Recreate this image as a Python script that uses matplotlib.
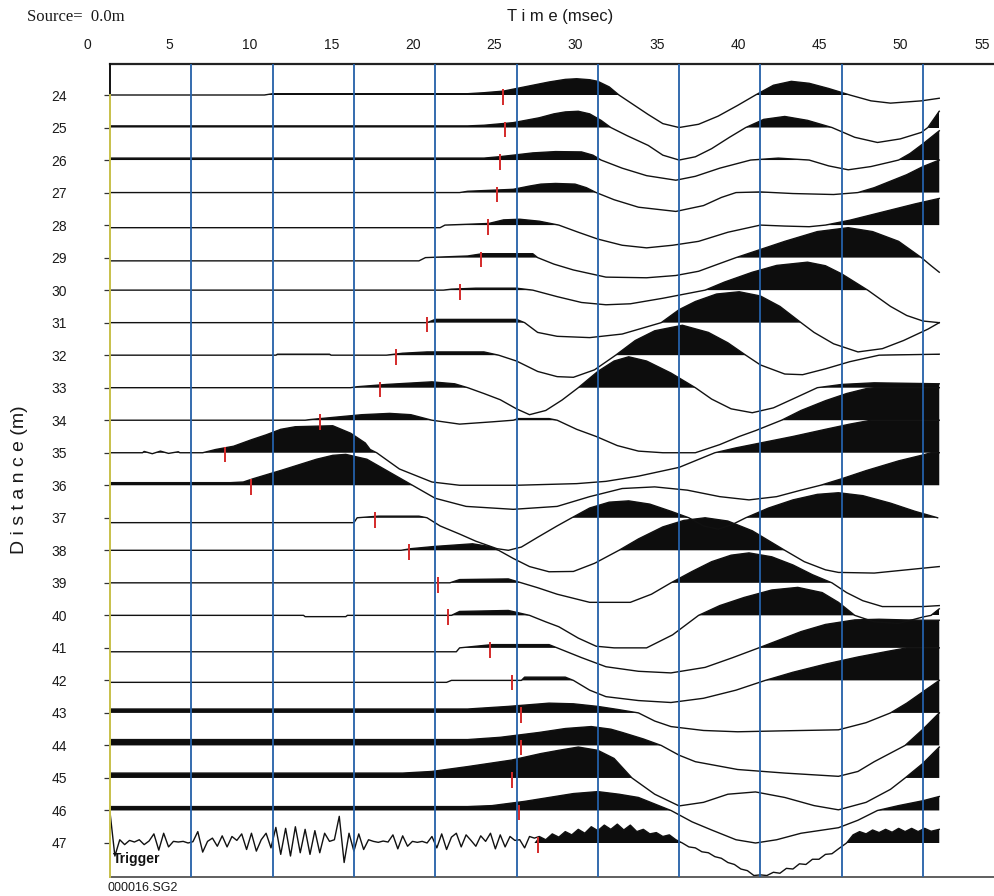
import numpy as np
import matplotlib
matplotlib.use("Agg")
import matplotlib.pyplot as plt

# Trace picks / shot info
# ----------------------
trace_ids = list(range(24, 48))
x_tick_values = [0, 5, 10, 15, 20, 25, 30, 35, 40, 45, 50, 55]
grid_times = [5, 10, 15, 20, 25, 30, 35, 40, 45, 50]

# first-break picks (msec, frame time) for traces 24..47
pick_times = [24.2, 24.3, 24.0, 23.8, 23.25, 22.8, 21.5, 19.5, 17.6, 16.6,
              12.9, 7.1, 8.65, 16.3, 18.4, 20.2, 20.8, 23.4, 24.7, 25.3,
              25.3, 24.7, 25.15, 26.3]

# Wiggle traces, (time msec, amplitude in trace spacings, + = up)
tr24 = [(0, 0), (9.5, 0), (10, 0.04), (22, 0.04), (23, 0.07), (24.2, 0.12), (25, 0.2),
        (26, 0.3), (27, 0.4), (28, 0.48), (28.7, 0.5), (29.5, 0.47), (30, 0.42),
        (30.7, 0.25), (31.3, 0), (32.2, -0.3), (33.1, -0.6), (34, -0.88), (35, -1.0),
        (36.2, -0.9), (37.4, -0.65), (38.6, -0.32), (39.7, 0), (40.8, 0.3), (41.9, 0.42),
        (43, 0.36), (44.2, 0.2), (45.5, 0), (46.8, -0.18), (48, -0.25), (49.9, -0.18),
        (51, -0.1)]
tr25 = [(0, 0.05), (22, 0.05), (23, 0.07), (24.8, 0.15), (26.4, 0.3), (27.3, 0.42),
        (28, 0.48), (28.8, 0.5), (29.5, 0.42), (30.2, 0.22), (30.8, 0), (31.8, -0.25),
        (33.1, -0.55), (34, -0.85), (35, -1.0), (36, -0.9), (37, -0.65), (38.1, -0.3),
        (39.1, 0), (40.2, 0.25), (41.5, 0.34), (42.9, 0.22), (44.4, 0), (45.8, -0.3),
        (47.2, -0.46), (48.6, -0.35), (49.9, -0.15), (50.3, 0), (51, 0.5)]
tr26 = [(0, 0.06), (23, 0.06), (23.9, 0.1), (24.8, 0.15), (26, 0.22), (27.4, 0.26),
        (29, 0.25), (29.7, 0.15), (30.2, 0), (31.5, -0.25), (33, -0.48), (34.8, -0.62),
        (36, -0.5), (37.5, -0.25), (39.4, 0), (41.1, 0.06), (43, 0), (44.2, -0.18),
        (45.4, -0.3), (46.8, -0.2), (48, -0.06), (48.5, 0), (49.2, 0.2), (50, 0.5),
        (51, 0.9)]
tr27 = [(0, 0), (21.5, 0), (22, 0.04), (24.8, 0.1), (25.8, 0.2), (26.5, 0.26),
        (27.4, 0.28), (28.6, 0.26), (29.3, 0.15), (29.9, 0), (31, -0.22), (32.5, -0.45),
        (34.8, -0.58), (36.5, -0.4), (37.6, -0.15), (38.5, 0), (40, 0.02), (42, -0.03),
        (44.5, -0.06), (46, 0), (47, 0.15), (48, 0.35), (49, 0.55), (50, 0.8), (51, 1.0)]
tr28 = [(0, -0.08), (20.3, -0.08), (20.6, 0), (23.3, 0.05), (24.2, 0.16), (25.2, 0.18),
        (26.4, 0.12), (27.6, 0), (28.8, -0.22), (30, -0.43), (31.5, -0.62), (33, -0.7),
        (34.6, -0.62), (36.2, -0.5), (38, -0.22), (40, 0), (41.5, -0.03), (43, -0.05),
        (44, 0), (45.5, 0.15), (47.5, 0.4), (49.5, 0.65), (51, 0.82)]
tr29 = [(0, -0.1), (19, -0.1), (19.4, 0), (22, 0.05), (22.9, 0.12), (26, 0.12),
        (26.3, 0), (27.3, -0.2), (28.5, -0.38), (30.5, -0.6), (33, -0.62), (34.8, -0.55),
        (36.2, -0.42), (37.4, -0.2), (38.5, 0), (40, 0.25), (41.5, 0.5), (43.5, 0.8),
        (45.4, 0.92), (46.9, 0.8), (48.5, 0.5), (49.9, 0), (50.5, -0.25), (51, -0.45)]
tr30 = [(0, 0), (20.5, 0), (21, 0.03), (22.5, 0.06), (25, 0.06), (26, 0), (27.5, -0.2),
        (29, -0.38), (30.5, -0.45), (32, -0.42), (34, -0.25), (36.6, 0), (37.8, 0.25),
        (39.5, 0.55), (41, 0.76), (42.9, 0.86), (44, 0.75), (45, 0.5), (46.6, 0),
        (47.3, -0.25), (48, -0.5), (49, -0.78), (50, -0.95), (51, -1.0)]
tr31 = [(0, 0), (19.5, 0), (20, 0.1), (25, 0.1), (25.5, 0), (26.3, -0.3), (27.5, -0.42),
        (29.5, -0.46), (31.5, -0.35), (33.9, 0), (35, 0.4), (36, 0.65), (37.3, 0.88),
        (38.7, 0.95), (40, 0.82), (41.2, 0.5), (42.5, 0), (43.3, -0.3), (44.5, -0.65),
        (46, -0.9), (47.5, -0.8), (48.8, -0.55), (50.3, -0.2), (51, 0)]
tr32 = [(0, 0), (10.2, 0), (10.3, 0.03), (13.5, 0.03), (13.6, 0), (17, 0), (18, 0.06),
        (19.5, 0.1), (23, 0.1), (23.9, 0), (25, -0.18), (26.3, -0.5), (27.5, -0.66),
        (28.5, -0.68), (29.8, -0.45), (31.1, 0), (32.3, 0.45), (33.5, 0.75), (35.2, 0.92),
        (36.8, 0.7), (38, 0.38), (39.1, 0), (40, -0.3), (41.5, -0.58), (42.6, -0.6),
        (44, -0.42), (45.5, -0.2), (47.3, 0), (51, 0.03)]
tr33 = [(0, 0), (14.8, 0), (15.2, 0.03), (17, 0.1), (19.8, 0.18), (21.2, 0.12), (22, 0),
        (23, -0.18), (24, -0.37), (25, -0.65), (25.8, -0.83), (26.8, -0.7), (27.8, -0.38),
        (28.8, 0), (30, 0.5), (31, 0.82), (31.9, 0.95), (33, 0.82), (34.5, 0.45), (36, 0),
        (37, -0.35), (38.2, -0.65), (39.5, -0.77), (40.8, -0.62), (42.2, -0.3), (43.5, 0),
        (45, 0.1), (47, 0.15), (51, 0.12)]
tr34 = [(0, 0), (12, 0), (12.3, 0.02), (14, 0.1), (15.5, 0.17), (17.2, 0.21), (18.5, 0.17),
        (19.8, 0), (21.5, -0.12), (23.5, -0.05), (24.8, 0), (25.1, 0.05), (27, 0.05),
        (27.5, 0), (28.7, -0.28), (29.9, -0.5), (31.2, -0.78), (32.5, -0.95), (34, -1.0),
        (36, -1.0), (37.5, -0.75), (38.7, -0.5), (39.7, -0.32), (41.3, 0), (42.5, 0.3),
        (44, 0.6), (45.3, 0.82), (46.5, 0.97), (47, 1.0), (51, 1.0)]
tr35 = [(0, 0), (2, 0), (2.1, 0.04), (2.6, -0.03), (3.1, 0.05), (3.6, -0.02), (4.2, 0.03),
        (4.3, 0), (5.7, 0), (6.5, 0.1), (7.6, 0.2), (8.7, 0.4), (9.6, 0.55), (10.5, 0.72),
        (11.4, 0.8), (13.7, 0.83), (14.8, 0.6), (15.7, 0.3), (16, 0.1), (16.4, 0),
        (17.8, -0.5), (19.8, -0.9), (21.5, -1.0), (25, -1.0), (28.7, -0.95), (30.5, -0.88),
        (32.5, -0.72), (35, -0.45), (37.2, 0), (38.5, 0.15), (40, 0.3), (42, 0.5),
        (44, 0.72), (45.5, 0.88), (46.8, 1.0), (51, 1.0)]
tr36 = [(0, 0.08), (7.4, 0.08), (8.2, 0.1), (8.8, 0.2), (10.6, 0.47), (12.7, 0.8),
        (13.7, 0.92), (14.5, 0.95), (15.8, 0.8), (17.2, 0.4), (18.6, 0), (20, -0.4),
        (21.9, -0.65), (24.8, -0.74), (27.5, -0.65), (29.5, -0.35), (31.5, -0.1),
        (33.5, -0.05), (35.5, -0.15), (37.5, -0.35), (39.3, -0.45), (41, -0.35),
        (42.5, -0.15), (43.7, 0), (45, 0.2), (46.5, 0.45), (48.5, 0.75), (49.9, 0.92),
        (50.5, 1.0), (51, 1.0)]
tr37 = [(0, -0.15), (15, -0.15), (15.2, 0), (16.5, 0.05), (19, 0.05), (19.5, 0),
        (20.3, -0.25), (21.5, -0.5), (22.5, -0.72), (23.8, -0.95), (24.5, -1.0),
        (25.3, -0.9), (26.3, -0.6), (27.5, -0.25), (28.4, 0), (29.5, 0.3), (30.7, 0.48),
        (31.9, 0.52), (33.2, 0.42), (34.5, 0.2), (35.6, 0), (36.5, -0.25), (37.4, -0.35),
        (38.3, -0.2), (39.1, 0), (40.5, 0.3), (42, 0.55), (43.5, 0.72), (44.8, 0.77),
        (46.3, 0.68), (48, 0.45), (49.5, 0.2), (50.9, 0)]
tr38 = [(0, 0), (17.9, 0), (18.5, 0.05), (20, 0.12), (22.3, 0.2), (23.3, 0.12), (23.9, 0),
        (24.8, -0.25), (25.8, -0.5), (27, -0.66), (28.5, -0.65), (29.8, -0.4), (31.3, 0),
        (32.5, 0.35), (34, 0.72), (35.3, 0.92), (36.6, 1.0), (38, 0.9), (39.5, 0.6),
        (40.5, 0.3), (41.5, 0), (42.7, -0.35), (44, -0.6), (44.8, -0.68), (47, -0.7),
        (49, -0.6), (51, -0.5)]
tr39 = [(0, 0), (20.9, 0), (21.5, 0.1), (24.5, 0.12), (25.3, 0), (26.3, -0.15),
        (27.5, -0.35), (29.5, -0.6), (32, -0.6), (33.3, -0.35), (34.5, 0), (35.8, 0.35),
        (37, 0.65), (38.2, 0.85), (39.3, 0.92), (40.7, 0.8), (42, 0.55), (43.2, 0.25),
        (44.4, 0), (45.3, -0.3), (46.3, -0.55), (47.5, -0.73), (50, -0.73), (51, -0.7)]
tr40 = [(0, 0), (11.9, 0), (12, -0.04), (14.5, -0.04), (14.6, 0), (21, 0), (21.5, 0.12),
        (24.5, 0.15), (25.8, 0), (26.8, -0.2), (27.6, -0.35), (28.8, -0.7), (29.9, -0.95),
        (31, -1.0), (33, -1.0), (34.6, -0.6), (36.2, 0), (37.5, 0.3), (39, 0.55),
        (40.7, 0.78), (42.3, 0.86), (43.8, 0.7), (44.8, 0.4), (45.8, 0), (47, -0.2),
        (48.5, -0.25), (50, -0.05), (50.5, 0), (51, 0.2)]
tr41 = [(0, -0.12), (21.3, -0.12), (21.5, 0), (23.5, 0.1), (27, 0.1), (27.5, 0),
        (29, -0.3), (30.5, -0.58), (32.5, -0.72), (34.5, -0.77), (36.6, -0.6),
        (38.3, -0.3), (39.9, 0), (41.2, 0.25), (42.5, 0.5), (44, 0.72), (45.8, 0.86),
        (47.3, 0.88), (48.8, 0.86), (50, 0.85), (51, 0.85)]
tr42 = [(0, -0.06), (20.7, -0.06), (21, 0), (25.3, 0), (25.5, 0.1), (28, 0.1), (28.5, 0),
        (29.5, -0.3), (30.5, -0.5), (32.5, -0.62), (34.5, -0.68), (36.5, -0.55),
        (38.5, -0.3), (40.3, 0), (42, 0.25), (44, 0.5), (46, 0.72), (47.9, 0.9), (49, 1.0),
        (51, 1.0)]
tr43 = [(0, 0.12), (22, 0.12), (24.5, 0.2), (27, 0.3), (28.5, 0.28), (30, 0.2),
        (31.3, 0.1), (32.5, 0), (33.5, -0.25), (34.5, -0.42), (36.5, -0.54), (38.6, -0.58),
        (41.5, -0.55), (44.8, -0.52), (46.5, -0.3), (48, 0), (49, 0.3), (50, 0.65),
        (51, 1.0)]
tr44 = [(0, 0.18), (22, 0.18), (24, 0.25), (26.4, 0.4), (28, 0.52), (29.6, 0.58),
        (30.8, 0.5), (31.5, 0.4), (32.8, 0.2), (33.9, 0), (35, -0.3), (36, -0.5),
        (38.6, -0.74), (41.5, -0.85), (44.8, -0.95), (46, -0.8), (47, -0.5), (48.9, 0),
        (50, 0.5), (51, 1.0)]
tr45 = [(0, 0.15), (18, 0.15), (19.8, 0.2), (22, 0.35), (24.7, 0.55), (26.5, 0.75),
        (27.6, 0.85), (28.8, 0.95), (30, 0.85), (31, 0.6), (32.1, 0), (33.5, -0.5),
        (35, -0.86), (36.5, -0.75), (38, -0.5), (39.7, -0.43), (41.5, -0.6), (43.3, -0.85),
        (44.8, -0.98), (46.5, -0.75), (48, -0.35), (48.9, 0), (50, 0.45), (51, 0.95)]
tr46 = [(0, 0.12), (22, 0.12), (23.5, 0.15), (25.5, 0.28), (27, 0.4), (28.5, 0.52),
        (30, 0.58), (31.3, 0.5), (32.5, 0.4), (33.5, 0.2), (34.5, 0), (35.8, -0.35),
        (37, -0.6), (38.5, -0.9), (39.7, -1.0), (41, -0.9), (42.5, -0.7), (44.8, -0.53),
        (46, -0.3), (47.2, 0), (48.5, 0.15), (50, 0.3), (51, 0.43)]

# trigger trace: noise sampled every 0.3 ms up to 26.1 ms, then the wavelet
trigger_noise = [0.95, -0.4, 0.1, -0.05, 0.08, 0.03, 0.1, -0.05, 0.06, 0.28,
                 -0.22, 0.3, -0.12, 0.05, 0.03, 0.05, 0.0, 0.04, 0.35, -0.28,
                 0.05, 0.15, -0.1, 0.22, -0.12, 0.2, 0.08, 0.28, -0.2, 0.3,
                 -0.25, 0.1, 0.3, -0.15, 0.48, -0.35, 0.45, -0.4, 0.5, -0.3,
                 0.42, -0.35, 0.38, -0.3, 0.3, 0.05, 0.1, 0.82, -0.6, 0.3,
                 -0.25, 0.28, -0.2, 0.1, 0.05, 0.02, 0.06, 0.03, 0.25, -0.18,
                 0.22, -0.1, 0.05, 0.02, 0.05, 0.0, 0.2, -0.15, 0.28, -0.2,
                 0.18, 0.3, -0.12, 0.25, 0.08, -0.1, 0.22, 0.05, 0.3, -0.18,
                 0.25, -0.12, 0.2, 0.08, 0.1, -0.15, 0.2, 0.15]
tr47_tail = [(26.4, 0.2), (26.8, 0.1), (27.2, 0.28), (27.6, 0.18), (28, 0.35), (28.4, 0.25),
             (28.8, 0.42), (29.2, 0.3), (29.6, 0.5), (30, 0.38), (30.4, 0.55), (30.8, 0.42),
             (31.2, 0.58), (31.6, 0.4), (32, 0.55), (32.4, 0.35), (32.8, 0.42), (33.2, 0.28),
             (33.6, 0.32), (34, 0.2), (34.4, 0.25), (34.8, 0.1), (35.2, 0), (35.6, -0.12),
             (36, -0.15), (36.4, -0.27), (36.8, -0.3), (37.2, -0.42), (37.6, -0.47),
             (38, -0.6), (38.4, -0.66), (38.8, -0.8), (39.2, -0.85), (39.6, -1.0),
             (40, -0.98), (40.4, -1.0), (40.8, -0.9), (41.2, -0.93), (41.6, -0.78),
             (42, -0.8), (42.4, -0.64), (42.8, -0.66), (43.2, -0.5), (43.6, -0.5),
             (44, -0.35), (44.4, -0.33), (44.8, -0.18), (45.3, 0), (45.7, 0.25), (46.1, 0.35),
             (46.5, 0.28), (46.9, 0.4), (47.3, 0.32), (47.7, 0.42), (48.1, 0.33), (48.5, 0.45),
             (48.9, 0.35), (49.3, 0.45), (49.7, 0.35), (50.1, 0.45), (50.5, 0.36), (51, 0.42)]
trigger_end = 26.2   # the noise part is drawn as a bare line

tr47 = [(0.3 * i, v) for i, v in enumerate(trigger_noise)] + tr47_tail

traces = [tr24, tr25, tr26, tr27, tr28, tr29, tr30, tr31, tr32, tr33, tr34, tr35,
          tr36, tr37, tr38, tr39, tr40, tr41, tr42, tr43, tr44, tr45, tr46, tr47]

# Figure geometry (pixels of the 994x896 picture)
W, H = 994, 896
left_px, right_px, top_px, bot_px = 110, 994, 64, 877
px_per_ms = 16.26
y_top = 24 - (95 - top_px) / 32.52
y_bot = 47 + (bot_px - 843) / 32.52

fig = plt.figure(figsize=(W / 100, H / 100), dpi=100)
ax = fig.add_axes([left_px / W, 1 - bot_px / H, (right_px - left_px) / W,
                   (bot_px - top_px) / H])
ax.set_xlim(0, (right_px - left_px) / px_per_ms)
ax.set_ylim(y_bot, y_top)

clip = 1.0
for n, tr in zip(trace_ids, traces):
    t = np.array([p[0] for p in tr])
    a = np.clip(np.array([p[1] for p in tr]), -clip, clip)
    y = n - a
    mask = a > 0
    if n == 47:
        mask = mask & (t > trigger_end)
    ax.fill_between(t, n, y, where=mask, interpolate=True, color='#0d0d0d',
                    lw=0, zorder=2)
    ax.plot(t, y, color='#111111', lw=1.0, zorder=2.5)

# blue time lines, drawn on top of the wiggles
for g in grid_times:
    ax.axvline(g, color='#2460a8', lw=1.3, zorder=3)

# first-break picks
ax.vlines(pick_times, np.array(trace_ids) - 0.18, np.array(trace_ids) + 0.3,
          colors='#d42a2a', lw=1.4, zorder=4)

# frame
for s in ['left', 'right']:
    ax.spines[s].set_visible(False)
ax.spines['top'].set_linewidth(1.6)
ax.spines['top'].set_color('#222222')
ax.spines['bottom'].set_linewidth(1.2)
ax.spines['bottom'].set_color('#444444')
ax.plot([0, 0], [y_top, 24], color='#111111', lw=1.4, zorder=5, clip_on=False)
ax.plot([0, 0], [24, y_bot], color='#c8c04a', lw=1.4, zorder=5, clip_on=False)

ax.set_xticks([])
ax.set_yticks(trace_ids)
ax.set_yticklabels([str(n) for n in trace_ids], fontsize=10, family='Liberation Sans',
                   color='#1a1a1a')
ax.tick_params(axis='y', length=4, width=0.9, color='#333333', pad=27)

# time labels (offset from grid lines, as printed)
for v in x_tick_values:
    ax.text(v - 1.38, 1 + (top_px - 45) / (bot_px - top_px), str(v),
            transform=ax.get_xaxis_transform(), ha='center', va='center',
            fontsize=10, family='Liberation Sans', color='#1a1a1a', clip_on=False)

fig.text(560 / W, 1 - 17 / H, 'T i m e (msec)', ha='center', va='center',
         fontsize=12, family='Liberation Sans', color='#1a1a1a')
fig.text(27 / W, 1 - 17 / H, 'Source=  0.0m', ha='left', va='center',
         fontsize=12, family='Liberation Serif', color='#1a1a1a')
fig.text(20 / W, 1 - 480 / H, 'D i s t a n c e (m)', ha='center', va='center',
         rotation=90, fontsize=14, family='Liberation Sans', color='#1a1a1a')
fig.text(107 / W, 1 - 888 / H, '000016.SG2', ha='left', va='center',
         fontsize=9, family='Liberation Sans', color='#1a1a1a')
ax.text(0.15, 47.5, 'Trigger', ha='left', va='center', fontsize=10,
        fontweight='bold', family='Liberation Sans', color='#111111', zorder=6)

fig.savefig('out.png', dpi=100)
